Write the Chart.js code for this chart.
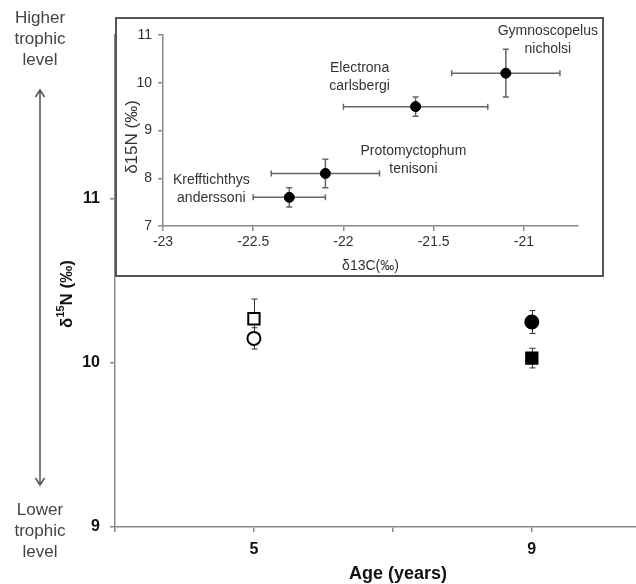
<!DOCTYPE html>
<html><head><meta charset="utf-8">
<script src="https://cdn.jsdelivr.net/npm/chart.js@4/dist/chart.umd.min.js"></script>
<style>
html,body{margin:0;padding:0;background:#fff;}
#wrap{position:relative;width:636px;height:584px;overflow:hidden;}
#main{position:absolute;left:0;top:0;}
#inset{position:absolute;left:115px;top:17px;}
</style></head><body>
<div id="wrap"><canvas id="main" width="636" height="584"></canvas><canvas id="inset" width="489" height="260"></canvas></div>
<script>
// ---------- main chart data ----------
const ageTicks = [3, 5, 7, 9];
const ageLabels = [5, 9];
const mainYTicks = [9, 10, 11];
const mainYLabels = [9, 10, 11];
const groupNames = ['Age 5 (open square)', 'Age 5 (open circle)', 'Age 9 (filled circle)', 'Age 9 (filled square)'];
const groupAge = [5, 5, 9, 9];
const groupN = [10.27, 10.15, 10.25, 10.03];
const groupErr = [0.12, 0.065, 0.07, 0.06];

// ---------- inset data ----------
const speciesLines = [['Krefftichthys', 'anderssoni'], ['Protomyctophum', 'tenisoni'], ['Electrona', 'carlsbergi'], ['Gymnoscopelus', 'nicholsi']];
const d13C = [-22.3, -22.1, -21.6, -21.1];
const d13CErr = [0.2, 0.3, 0.4, 0.3];
const d15N = [7.6, 8.1, 9.5, 10.2];
const d15NErr = [0.2, 0.3, 0.2, 0.5];
const insetXTicks = [-23, -22.5, -22, -21.5, -21];
const insetYTicks = [7, 8, 9, 10, 11];

// label offsets (pixels, relative to the data point)
const labelOffsets = [[-78, -8], [88, -13], [-56, -29], [42, -33]];

// ---------- styles ----------
const groupStyles = [
  {pointStyle: 'rect', radius: 8, bg: '#fff'},
  {pointStyle: 'circle', radius: 6.5, bg: '#fff'},
  {pointStyle: 'circle', radius: 6.5, bg: '#000'},
  {pointStyle: 'rect', radius: 8, bg: '#000'}
];

const mainDatasets = groupNames.map((name, i) => ({
  label: name,
  data: [{x: groupAge[i], y: groupN[i]}],
  pointStyle: groupStyles[i].pointStyle,
  pointRadius: groupStyles[i].radius,
  pointBackgroundColor: groupStyles[i].bg,
  pointBorderColor: '#000',
  pointBorderWidth: 2,
  showLine: false
}));

const noPad = s => { s.paddingLeft = 0; s.paddingRight = 0; s.paddingTop = 0; s.paddingBottom = 0; };

const mainPlugin = {
  id: 'mainExtras',
  beforeDatasetsDraw(chart) {
    const ctx = chart.ctx, xs = chart.scales.x, ys = chart.scales.y;
    ctx.save();
    ctx.strokeStyle = '#333';
    ctx.lineWidth = 1;
    for (let i = 0; i < groupAge.length; i++) {
      const px = Math.round(xs.getPixelForValue(groupAge[i])) + 0.5;
      const top = ys.getPixelForValue(groupN[i] + groupErr[i]);
      const bot = ys.getPixelForValue(groupN[i] - groupErr[i]);
      ctx.beginPath();
      ctx.moveTo(px, top); ctx.lineTo(px, bot);
      ctx.moveTo(px - 3, top); ctx.lineTo(px + 3, top);
      ctx.moveTo(px - 3, bot); ctx.lineTo(px + 3, bot);
      ctx.stroke();
    }
    ctx.restore();
  },
  afterDraw(chart) {
    const ctx = chart.ctx;
    ctx.save();
    // trophic level annotations
    ctx.fillStyle = '#444';
    ctx.font = '17px "Liberation Sans", Arial, sans-serif';
    ctx.textAlign = 'center';
    ctx.textBaseline = 'middle';
    ['Higher', 'trophic', 'level'].forEach((t, i) => ctx.fillText(t, 40, 18 + i * 21));
    ['Lower', 'trophic', 'level'].forEach((t, i) => ctx.fillText(t, 40, 510 + i * 21));
    // double arrow
    ctx.strokeStyle = '#555';
    ctx.lineWidth = 1.5;
    ctx.beginPath();
    ctx.moveTo(40, 90); ctx.lineTo(40, 485);
    ctx.moveTo(35.5, 97); ctx.lineTo(40, 90); ctx.lineTo(44.5, 97);
    ctx.moveTo(35.5, 478); ctx.lineTo(40, 485); ctx.lineTo(44.5, 478);
    ctx.stroke();
    // x title
    ctx.fillStyle = '#111';
    ctx.font = 'bold 18px "Liberation Sans", Arial, sans-serif';
    ctx.fillText('Age (years)', 398, 574);
    // y title with superscript
    ctx.translate(67, 294);
    ctx.rotate(-Math.PI / 2);
    const big = 'bold 17px "Liberation Sans", Arial, sans-serif';
    const small = 'bold 11px "Liberation Sans", Arial, sans-serif';
    const parts = [['δ', big, 0], ['15', small, -6], ['N (‰)', big, 0]];
    let w = 0;
    parts.forEach(p => { ctx.font = p[1]; w += ctx.measureText(p[0]).width; });
    let x = -w / 2;
    ctx.textAlign = 'left';
    ctx.textBaseline = 'middle';
    parts.forEach(p => { ctx.font = p[1]; ctx.fillText(p[0], x, p[2]); x += ctx.measureText(p[0]).width; });
    ctx.restore();
  }
};

new Chart(document.getElementById('main'), {
  type: 'scatter',
  data: {datasets: mainDatasets},
  options: {
    responsive: false, animation: false, devicePixelRatio: 1,
    layout: {autoPadding: false, padding: {left: 0, right: 0, top: 35, bottom: 0}},
    plugins: {legend: {display: false}, tooltip: {enabled: false}},
    scales: {
      x: {
        type: 'linear', min: 3, max: 10.5,
        afterBuildTicks: s => { s.ticks = ageTicks.map(v => ({value: v})); },
        afterFit: s => { s.height = 57; noPad(s); },
        grid: {drawOnChartArea: false, drawTicks: true, tickLength: 5, color: '#8a8a8a', lineWidth: 1.5},
        border: {display: true, color: '#8a8a8a', width: 1.5},
        ticks: {padding: 8, color: '#111', font: {family: '"Liberation Sans", Arial, sans-serif', size: 16, weight: 'bold'},
          callback: v => ageLabels.includes(v) ? String(v) : ''}
      },
      y: {
        type: 'linear', min: 9, max: 12,
        afterBuildTicks: s => { s.ticks = mainYTicks.map(v => ({value: v})); },
        afterFit: s => { s.width = 115; noPad(s); },
        grid: {drawOnChartArea: false, drawTicks: true, tickLength: 5, color: '#8a8a8a', lineWidth: 1.5},
        border: {display: true, color: '#8a8a8a', width: 1.5},
        ticks: {padding: 10, color: '#111', font: {family: '"Liberation Sans", Arial, sans-serif', size: 16, weight: 'bold'},
          callback: v => mainYLabels.includes(v) ? String(v) : ''}
      }
    }
  },
  plugins: [mainPlugin]
});

// ---------- inset ----------
const insetPlugin = {
  id: 'insetExtras',
  beforeDraw(chart) {
    const ctx = chart.ctx;
    ctx.save();
    ctx.fillStyle = '#fff';
    ctx.fillRect(0, 0, chart.width, chart.height);
    ctx.restore();
  },
  beforeDatasetsDraw(chart) {
    const ctx = chart.ctx, xs = chart.scales.x, ys = chart.scales.y;
    ctx.save();
    ctx.strokeStyle = '#666';
    ctx.lineWidth = 1.5;
    for (let i = 0; i < d13C.length; i++) {
      const px = xs.getPixelForValue(d13C[i]), py = ys.getPixelForValue(d15N[i]);
      const l = xs.getPixelForValue(d13C[i] - d13CErr[i]), r = xs.getPixelForValue(d13C[i] + d13CErr[i]);
      const t = ys.getPixelForValue(d15N[i] + d15NErr[i]), b = ys.getPixelForValue(d15N[i] - d15NErr[i]);
      ctx.beginPath();
      ctx.moveTo(l, py); ctx.lineTo(r, py);
      ctx.moveTo(l, py - 3); ctx.lineTo(l, py + 3);
      ctx.moveTo(r, py - 3); ctx.lineTo(r, py + 3);
      ctx.moveTo(px, t); ctx.lineTo(px, b);
      ctx.moveTo(px - 3, t); ctx.lineTo(px + 3, t);
      ctx.moveTo(px - 3, b); ctx.lineTo(px + 3, b);
      ctx.stroke();
    }
    ctx.restore();
  },
  afterDraw(chart) {
    const ctx = chart.ctx, xs = chart.scales.x, ys = chart.scales.y;
    ctx.save();
    ctx.fillStyle = '#333';
    ctx.font = '14px "Liberation Sans", Arial, sans-serif';
    ctx.textAlign = 'center';
    ctx.textBaseline = 'middle';
    for (let i = 0; i < d13C.length; i++) {
      const px = xs.getPixelForValue(d13C[i]) + labelOffsets[i][0];
      const py = ys.getPixelForValue(d15N[i]) + labelOffsets[i][1];
      ctx.fillText(speciesLines[i][0], px, py - 9);
      ctx.fillText(speciesLines[i][1], px, py + 9);
    }
    // axis titles
    ctx.fillText('δ13C(‰)', (xs.left + xs.right) / 2, 249);
    ctx.save();
    ctx.translate(17, 120);
    ctx.rotate(-Math.PI / 2);
    ctx.font = '17px "Liberation Sans", Arial, sans-serif';
    ctx.fillText('δ15N (‰)', 0, 0);
    ctx.restore();
    // border
    ctx.strokeStyle = '#555';
    ctx.lineWidth = 2;
    ctx.strokeRect(1, 1, chart.width - 2, chart.height - 2);
    ctx.restore();
  }
};

new Chart(document.getElementById('inset'), {
  type: 'scatter',
  data: {datasets: [{
    label: 'Myctophid species',
    data: d13C.map((v, i) => ({x: v, y: d15N[i]})),
    pointRadius: 5, pointBackgroundColor: '#000', pointBorderColor: '#000', pointBorderWidth: 1
  }]},
  options: {
    responsive: false, animation: false, devicePixelRatio: 1,
    layout: {autoPadding: false, padding: {left: 0, right: 26, top: 18, bottom: 0}},
    plugins: {legend: {display: false}, tooltip: {enabled: false}},
    scales: {
      x: {
        type: 'linear', min: -23, max: -20.7,
        afterBuildTicks: s => { s.ticks = insetXTicks.map(v => ({value: v})); },
        afterFit: s => { s.height = 51; noPad(s); },
        grid: {drawOnChartArea: false, drawTicks: true, tickLength: 5, color: '#8a8a8a', lineWidth: 1.5},
        border: {display: true, color: '#8a8a8a', width: 1.5},
        ticks: {padding: 3, color: '#333', font: {family: '"Liberation Sans", Arial, sans-serif', size: 14},
          callback: v => String(v)}
      },
      y: {
        type: 'linear', min: 7, max: 11,
        afterBuildTicks: s => { s.ticks = insetYTicks.map(v => ({value: v})); },
        afterFit: s => { s.width = 48; noPad(s); },
        grid: {drawOnChartArea: false, drawTicks: true, tickLength: 5, color: '#8a8a8a', lineWidth: 1.5},
        border: {display: true, color: '#8a8a8a', width: 1.5},
        ticks: {padding: 6, color: '#333', font: {family: '"Liberation Sans", Arial, sans-serif', size: 14},
          callback: v => String(v)}
      }
    }
  },
  plugins: [insetPlugin]
});
</script>
</body></html>
